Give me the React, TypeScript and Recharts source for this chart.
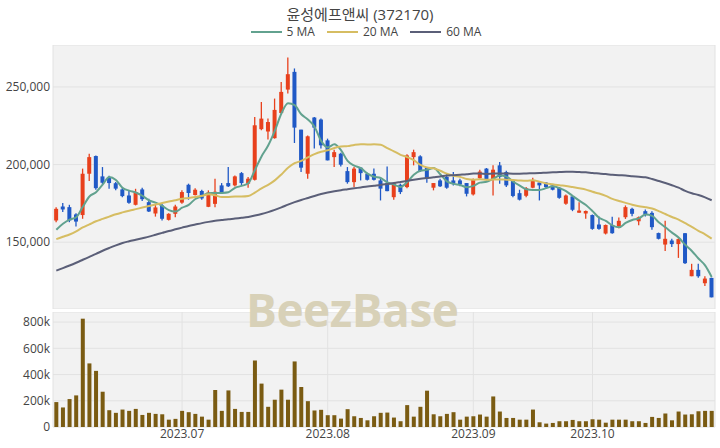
import React from 'react';
import { ComposedChart, Bar, Line, XAxis, YAxis, CartesianGrid } from 'recharts';

// daily candles, 100 sessions (2023.06 ~ 2023.10)
const OPEN = [
  164000, 173000, 172600, 167900, 167500, 194100, 205500, 192400, 191500, 188000,
  184000, 180100, 174100, 184000, 175800, 168500, 173700, 164400, 168300, 175500,
  187000, 180400, 183000, 172800, 174700, 186600, 188100, 186600, 194500, 187700,
  190200, 222800, 221300, 217000, 233200, 248300, 259700, 222500, 194100, 230300,
  229000, 215600, 204800, 207000, 195800, 188700, 198000, 194100, 194100, 189800,
  188100, 179000, 187000, 185500, 204800, 205300, 198000, 185100, 189800, 192000,
  189800, 189800, 188100, 180800, 191200, 197400, 190200, 199500, 195200, 189600,
  181600, 179900, 185100, 188400, 188400, 186600, 185100, 174800, 179500, 169000,
  168500, 167500, 161400, 155600, 161100, 160200, 166100, 171500, 163500, 170000,
  168900, 155900, 148500, 151100, 148800, 155800, 128100, 132200, 123600, 127000,
];
const HIGH = [
  172600, 175200, 174100, 168700, 197400, 207000, 205900, 198400, 192800, 188700,
  185500, 183400, 184400, 185100, 178000, 174500, 174800, 168700, 174100, 183400,
  187700, 184800, 183800, 183400, 190900, 188100, 198400, 193000, 195200, 192000,
  230600, 240300, 229600, 242500, 253200, 269000, 261900, 222500, 218800, 230600,
  229600, 216700, 209600, 207600, 198400, 198400, 198400, 194800, 197400, 190900,
  198800, 188100, 187700, 206600, 209600, 206000, 198400, 188100, 190900, 194100,
  195200, 190900, 188100, 191000, 196700, 197800, 199500, 201600, 196000, 190200,
  183800, 185500, 191500, 188700, 188700, 187200, 185500, 180800, 180000, 175800,
  170400, 167900, 166600, 161400, 166400, 166000, 173700, 172200, 166600, 171000,
  170000, 156200, 163800, 152200, 152500, 156000, 136100, 136100, 128100, 127200,
];
const LOW = [
  162900, 169400, 162900, 160100, 165100, 189400, 183800, 187200, 184400, 183400,
  179000, 174800, 173700, 176600, 169400, 166500, 164000, 164000, 166100, 174800,
  177400, 180100, 177400, 172600, 172600, 181600, 185500, 185900, 186600, 185100,
  189800, 222100, 216100, 216700, 232800, 245700, 213900, 195200, 190900, 210300,
  210300, 202700, 198400, 198800, 187700, 185500, 189800, 189800, 189800, 176900,
  182900, 177400, 181000, 184800, 199500, 195200, 188300, 183400, 185500, 184400,
  186600, 186000, 179500, 180100, 190900, 189800, 180100, 187700, 185500, 179000,
  176900, 179000, 184800, 176900, 184800, 183400, 178000, 174100, 170000, 169000,
  165100, 158000, 158000, 155000, 155400, 159000, 165000, 166800, 161000, 166600,
  158000, 151800, 144400, 147000, 139900, 136000, 128100, 127200, 121800, 114500,
];
const CLOSE = [
  171500, 171100, 164000, 163300, 194100, 204800, 184800, 188300, 188100, 184500,
  179700, 175400, 182300, 177700, 169800, 172400, 165100, 168300, 173000, 182300,
  181700, 183800, 178200, 182000, 182500, 182300, 186000, 192400, 188100, 190900,
  225300, 229600, 227400, 235200, 246800, 258200, 223800, 198000, 218200, 223800,
  212400, 202700, 208000, 199900, 188700, 197400, 194500, 190200, 190200, 184500,
  182900, 188100, 182300, 205900, 208000, 195800, 190900, 188100, 186000, 185100,
  187700, 187200, 181200, 190200, 195500, 190500, 196700, 192000, 186600, 179800,
  177400, 184800, 189800, 186600, 185500, 183800, 178600, 180100, 170900, 170400,
  170100, 158600, 158600, 161100, 155800, 163800, 172600, 168300, 166100, 168100,
  159700, 152200, 152200, 148800, 152000, 136500, 132200, 128100, 126600, 114500,
];
// volume in thousands of shares
const VOLUME_K = [
  190, 149, 213, 241, 826, 485, 428, 269, 128, 108,
  133, 123, 138, 92, 108, 100, 97, 56, 62, 123,
  113, 100, 79, 56, 282, 123, 279, 138, 115, 115,
  508, 331, 154, 208, 285, 208, 500, 305, 197, 126,
  131, 90, 90, 64, 136, 82, 69, 51, 82, 108,
  110, 72, 44, 167, 79, 154, 277, 97, 82, 100,
  113, 56, 79, 82, 95, 79, 233, 118, 69, 69,
  56, 56, 133, 36, 26, 31, 44, 44, 54, 44,
  44, 59, 56, 33, 56, 56, 56, 44, 44, 31,
  77, 69, 103, 51, 118, 95, 97, 120, 123, 123,
];

// moving-average values before each window is filled (earlier sessions are off chart)
const MA5_HEAD = [158000, 161900, 164600, 166100];
const MA20_HEAD = [
  152000, 153500, 155000, 157000, 159500, 161500, 163500, 165000, 166500, 168000,
  169200, 170300, 171300, 172300, 173300, 174300, 175300, 176200, 177000,
];
const MA60_HEAD = [
  131700, 133300, 135000, 136800, 138700, 140600, 142500, 144500, 146300, 148000,
  149500, 150600, 151600, 152600, 153600, 154800, 156000, 157200, 158300, 159400,
  160500, 161400, 162300, 163100, 163800, 164300, 164800, 165200, 165700, 166300,
  167200, 168200, 169400, 170800, 172400, 174200, 175800, 177200, 178500, 179800,
  181000, 182000, 182800, 183500, 184100, 184700, 185300, 185900, 186400, 186900,
  187500, 188100, 188800, 189500, 190200, 190800, 191300, 191800, 192300,
];

const MONTH_TICKS = [19, 41, 63, 81];
const MONTH_LABELS = ['2023.07', '2023.08', '2023.09', '2023.10'];
const PRICE_GRID_TICKS = [20, 40, 60, 80];
const PRICE_TICKS = [150000, 200000, 250000];
const VOLUME_TICKS = [0, 200000, 400000, 600000, 800000];

const UP = '#e8401c';
const DOWN = '#2059c6';
const VOL_COLOR = '#7a5b12';
const MA_COLORS = { ma5: '#62a28f', ma20: '#d6bd62', ma60: '#5b5f78' };
const FONT = '"Open Sans", "Noto Sans CJK KR", sans-serif';

const movingAvg = (n: number, head: number[], i: number) => {
  if (i < n - 1) return head[i];
  let s = 0;
  for (let k = i - n + 1; k <= i; k++) s += CLOSE[k];
  return s / n;
};

const rows = CLOSE.map((c, i) => ({
  i,
  o: OPEN[i],
  h: HIGH[i],
  l: LOW[i],
  c,
  v: VOLUME_K[i] * 1000,
  ma5: movingAvg(5, MA5_HEAD, i),
  ma20: movingAvg(20, MA20_HEAD, i),
  ma60: movingAvg(60, MA60_HEAD, i),
}));

// bar spans low..high; body is placed inside it proportionally
const Candle = (props: any) => {
  const { x, y, width, height, payload } = props;
  if (x == null || !payload) return null;
  const { o, h, l, c } = payload;
  const top = Math.min(y, y + height);
  const span = Math.abs(height);
  const ppu = h === l ? 0 : span / (h - l);
  const color = c >= o ? UP : DOWN;
  const cx = x + width / 2;
  const bodyTop = top + (h - Math.max(o, c)) * ppu;
  const bodyH = Math.max(1, Math.abs(o - c) * ppu);
  return (
    <g>
      <line x1={cx} x2={cx} y1={top} y2={top + span} stroke={color} strokeWidth={1.3} />
      <rect x={x} y={bodyTop} width={width} height={bodyH} fill={color} />
    </g>
  );
};

const tickStyle = { fill: '#444', fontSize: 12, fontFamily: FONT };

const LegendItem = ({ color, label }: { color: string; label: string }) => (
  <span style={{ display: 'inline-flex', alignItems: 'center', marginRight: 12 }}>
    <span style={{ display: 'inline-block', width: 31, height: 2, background: color, marginRight: 5 }} />
    <span>{label}</span>
  </span>
);

export default function App() {
  return (
    <div style={{ position: 'absolute', left: 0, top: 0, width: 720, height: 448, background: '#fff', fontFamily: FONT, overflow: 'hidden' }}>
      <div style={{ position: 'absolute', top: 4, width: 720, textAlign: 'center', fontSize: 15, color: '#444', lineHeight: '20px' }}>
        윤성에프앤씨 (372170)
      </div>
      <div style={{ position: 'absolute', top: 24, width: 720, display: 'flex', justifyContent: 'center', fontSize: 12, color: '#444', lineHeight: '16px', paddingLeft: 12 }}>
        <LegendItem color={MA_COLORS.ma5} label="5 MA" />
        <LegendItem color={MA_COLORS.ma20} label="20 MA" />
        <LegendItem color={MA_COLORS.ma60} label="60 MA" />
      </div>

      <div style={{ position: 'absolute', top: 45, left: 0 }}>
        <ComposedChart width={720} height={264} data={rows} margin={{ top: 0, right: 5, bottom: 0, left: 0 }} barCategoryGap="17%">
          <CartesianGrid fill="#f2f2f2" stroke="#e2e2e2" strokeWidth={1} />
          <XAxis dataKey="i" type="category" ticks={PRICE_GRID_TICKS} tick={false} tickLine={false} axisLine={false} height={0} />
          <YAxis
            width={53}
            domain={[107000, 277000]}
            ticks={PRICE_TICKS}
            allowDataOverflow
            tickLine={false}
            axisLine={false}
            tickSize={0}
            tickMargin={3}
            tick={tickStyle}
            tickFormatter={(v: number) => v.toLocaleString('en-US')}
          />
          <Bar dataKey={(d: any) => [d.l, d.h]} shape={Candle} isAnimationActive={false} />
          <Line dataKey="ma5" type="monotone" stroke={MA_COLORS.ma5} strokeWidth={2} dot={false} isAnimationActive={false} />
          <Line dataKey="ma20" type="monotone" stroke={MA_COLORS.ma20} strokeWidth={2} dot={false} isAnimationActive={false} />
          <Line dataKey="ma60" type="monotone" stroke={MA_COLORS.ma60} strokeWidth={2} dot={false} isAnimationActive={false} />
        </ComposedChart>
      </div>

      <div style={{ position: 'absolute', top: 312, left: 0 }}>
        <ComposedChart width={720} height={136} data={rows} margin={{ top: 0, right: 5, bottom: 0, left: 0 }} barCategoryGap="20%">
          <CartesianGrid fill="#f2f2f2" stroke="#e2e2e2" strokeWidth={1} />
          <XAxis
            dataKey="i"
            type="category"
            ticks={MONTH_TICKS}
            interval={0}
            height={21}
            tickLine={false}
            axisLine={false}
            tickSize={0}
            tickMargin={2}
            tick={tickStyle}
            tickFormatter={(v: number) => MONTH_LABELS[MONTH_TICKS.indexOf(v)] ?? ''}
          />
          <YAxis
            width={53}
            domain={[0, 877000]}
            ticks={VOLUME_TICKS}
            allowDataOverflow
            tickLine={false}
            axisLine={false}
            tickSize={0}
            tickMargin={3}
            tick={tickStyle}
            tickFormatter={(v: number) => (v === 0 ? '0' : `${v / 1000}k`)}
          />
          <Bar dataKey="v" fill={VOL_COLOR} isAnimationActive={false} />
        </ComposedChart>
      </div>

      <div style={{ position: 'absolute', left: 246, top: 277, fontSize: 46, fontWeight: 700, color: '#d8d1b8', fontFamily: '"Open Sans", sans-serif', letterSpacing: -0.5, lineHeight: '64px' }}>
        BeezBase
      </div>
    </div>
  );
}
